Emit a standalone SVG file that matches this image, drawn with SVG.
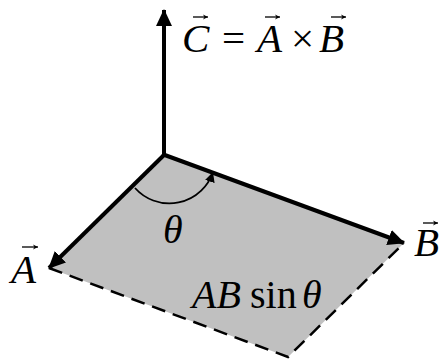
<svg xmlns="http://www.w3.org/2000/svg" width="443" height="361" viewBox="0 0 443 361">
<defs>
<marker id="ah" markerUnits="userSpaceOnUse" markerWidth="18" markerHeight="16" refX="16" refY="8" orient="auto"><path d="M0,0 L17,8 L0,16 Z" fill="#000"/></marker>
<marker id="sh" markerUnits="userSpaceOnUse" markerWidth="12" markerHeight="10" refX="10" refY="5" orient="auto"><path d="M0,0 L10,5 L0,10 Z" fill="#000"/></marker>
<marker id="tiny" markerUnits="userSpaceOnUse" markerWidth="6" markerHeight="6" refX="5" refY="3" orient="auto"><path d="M0,0.5 L5,3 L0,5.5 L1.5,3 Z" fill="#000"/></marker>
</defs>
<g id="plane">
<polygon points="164,155 404,243 288,357 49,268" fill="#c0c0c0"/>
<path d="M49,268 L288,357 L404,243" stroke="#000" stroke-width="2.5" fill="none" stroke-dasharray="14,8"/>
</g>
<g id="connectors" stroke="#000" stroke-width="4" fill="none">
<line x1="164" y1="157" x2="164" y2="10" marker-end="url(#ah)"/>
<line x1="164" y1="155" x2="49" y2="268" marker-end="url(#ah)"/>
<line x1="162" y1="154" x2="404" y2="243" marker-end="url(#ah)"/>
<path d="M135,188 A46,46 0 0 0 213,172" stroke-width="1.8" marker-end="url(#sh)"/>
</g>
<g id="label-C" font-family="Liberation Serif, Times New Roman, serif" font-size="41" fill="#000">
<text x="182" y="52" font-style="italic">C</text>
<line x1="193" y1="17" x2="208" y2="17" stroke="#000" stroke-width="1.3" marker-end="url(#tiny)"/>
<text x="222" y="52">=</text>
<text x="257" y="52" font-style="italic">A</text>
<line x1="265" y1="17" x2="280" y2="17" stroke="#000" stroke-width="1.3" marker-end="url(#tiny)"/>
<text x="291" y="52">×</text>
<text x="319" y="52" font-style="italic">B</text>
<line x1="331" y1="17" x2="346" y2="17" stroke="#000" stroke-width="1.3" marker-end="url(#tiny)"/>
</g>
<g id="label-A" font-family="Liberation Serif, Times New Roman, serif" font-size="41" fill="#000">
<text x="11" y="283" font-style="italic">A</text>
<line x1="22" y1="247" x2="38" y2="247" stroke="#000" stroke-width="1.3" marker-end="url(#tiny)"/>
</g>
<g id="label-B" font-family="Liberation Serif, Times New Roman, serif" font-size="41" fill="#000">
<text x="414" y="256" font-style="italic">B</text>
<line x1="423" y1="223" x2="438" y2="223" stroke="#000" stroke-width="1.3" marker-end="url(#tiny)"/>
</g>
<g id="label-theta" font-family="Liberation Serif, Times New Roman, serif" font-size="40" fill="#000">
<text x="163" y="243" font-style="italic">θ</text>
</g>
<g id="label-area" font-family="Liberation Serif, Times New Roman, serif" font-size="40" fill="#000">
<text x="192" y="308" font-style="italic">AB</text>
<text x="250" y="308">sin</text>
<text x="302" y="308" font-style="italic">θ</text>
</g>
</svg>
